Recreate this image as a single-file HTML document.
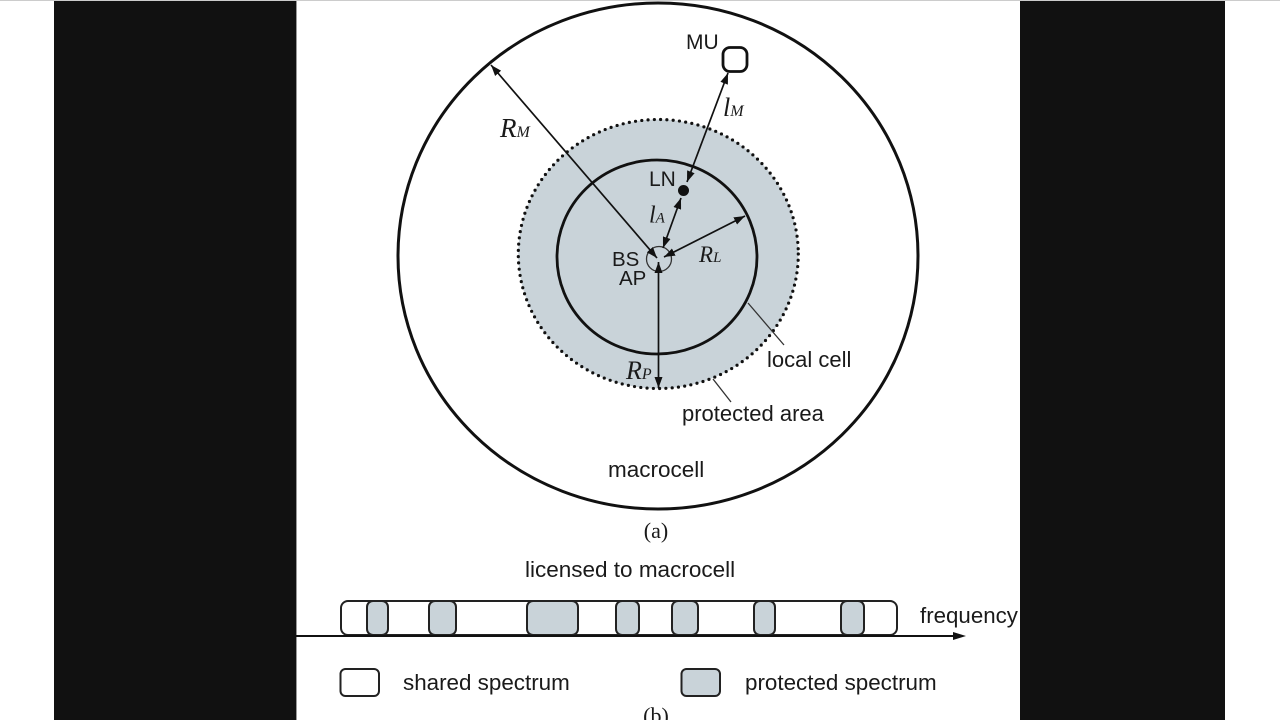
<!DOCTYPE html>
<html>
<head>
<meta charset="utf-8">
<style>
  html,body{margin:0;padding:0;background:#fff;}
  body{width:1280px;height:720px;overflow:hidden;}
  svg{display:block;}
  .sans{font-family:"Liberation Sans", Arial, sans-serif; fill:#1a1a1a;}
  .ser{font-family:"Liberation Serif", "Times New Roman", serif; font-style:italic; fill:#1a1a1a;}
  .serr{font-family:"Liberation Serif", "Times New Roman", serif; fill:#1a1a1a;}
</style>
</head>
<body>
<svg width="1280" height="720" viewBox="0 0 1280 720" xmlns="http://www.w3.org/2000/svg">
  <defs>
    <marker id="ah" viewBox="0 0 11 8" refX="11" refY="4" markerUnits="userSpaceOnUse" markerWidth="11" markerHeight="8" orient="auto-start-reverse">
      <path d="M0,0 L11,4 L0,8 z" fill="#111"/>
    </marker>
  </defs>

  <rect x="0" y="0" width="1280" height="720" fill="#fff"/>
  <line x1="0" y1="0.5" x2="1280" y2="0.5" stroke="#ccc" stroke-width="1"/>
  <!-- black side panels -->
  <rect x="54" y="1" width="242" height="719" fill="#111"/>
  <rect x="1020" y="1" width="205" height="719" fill="#111"/>
  <line x1="296.5" y1="1" x2="296.5" y2="720" stroke="#999" stroke-width="1"/>

  <!-- macrocell -->
  <ellipse cx="658" cy="256" rx="260" ry="253" fill="none" stroke="#111" stroke-width="3"/>
  <!-- protected area -->
  <ellipse cx="658.3" cy="254" rx="140" ry="134.5" fill="#c9d3d9" stroke="#111" stroke-width="3.2" stroke-dasharray="0 6.3" stroke-linecap="round"/>
  <!-- local cell -->
  <ellipse cx="657" cy="257" rx="100" ry="97" fill="none" stroke="#111" stroke-width="2.8"/>

  <!-- leader lines -->
  <line x1="748" y1="303" x2="784" y2="345" stroke="#333" stroke-width="1.3"/>
  <line x1="713" y1="379" x2="731" y2="402" stroke="#333" stroke-width="1.3"/>

  <!-- BS circle -->
  <circle cx="659" cy="259" r="12.5" fill="none" stroke="#333" stroke-width="1.3"/>

  <!-- arrows -->
  <g stroke="#111" stroke-width="1.7" fill="none">
    <line x1="657" y1="258" x2="491" y2="65" marker-start="url(#ah)" marker-end="url(#ah)"/>
    <line x1="687" y1="182" x2="728" y2="73" marker-start="url(#ah)" marker-end="url(#ah)"/>
    <line x1="663" y1="248" x2="681" y2="198" marker-start="url(#ah)" marker-end="url(#ah)"/>
    <line x1="664" y1="257" x2="745" y2="216" marker-start="url(#ah)" marker-end="url(#ah)"/>
    <line x1="658.5" y1="262" x2="658.5" y2="388" marker-start="url(#ah)" marker-end="url(#ah)"/>
  </g>

  <!-- LN dot -->
  <circle cx="683.5" cy="190.5" r="5.5" fill="#111"/>
  <!-- MU box -->
  <rect x="723" y="47.5" width="24" height="24" rx="7" fill="#fff" stroke="#111" stroke-width="2.8"/>

  <!-- labels -->
  <text class="sans" x="686" y="49" font-size="21">MU</text>
  <text class="sans" x="649" y="186" font-size="21">LN</text>
  <text class="sans" x="612" y="266" font-size="20.5">BS</text>
  <text class="sans" x="619" y="285" font-size="20.5">AP</text>
  <text class="sans" x="767" y="367" font-size="22">local cell</text>
  <text class="sans" x="682" y="421" font-size="22">protected area</text>
  <text class="sans" x="608" y="477" font-size="22.5">macrocell</text>

  <text class="ser" x="500" y="137" font-size="27">R<tspan font-size="16">M</tspan></text>
  <text class="ser" x="723" y="116" font-size="26">l<tspan font-size="16">M</tspan></text>
  <text class="ser" x="649" y="222.5" font-size="24">l<tspan font-size="15">A</tspan></text>
  <text class="ser" x="699" y="262" font-size="23">R<tspan font-size="15">L</tspan></text>
  <text class="ser" x="626" y="379" font-size="26">R<tspan font-size="16">P</tspan></text>

  <text class="serr" x="656" y="538" font-size="22" text-anchor="middle">(a)</text>
  <text class="sans" x="525" y="577" font-size="22.5">licensed to macrocell</text>

  <!-- frequency bar -->
  <rect x="341" y="601" width="556" height="34" rx="7" fill="#fff" stroke="#222" stroke-width="2"/>
  <g fill="#c9d3d9" stroke="#222" stroke-width="2">
    <rect x="367" y="601" width="21" height="34" rx="6"/>
    <rect x="429" y="601" width="27" height="34" rx="6"/>
    <rect x="527" y="601" width="51" height="34" rx="6"/>
    <rect x="616" y="601" width="23" height="34" rx="6"/>
    <rect x="672" y="601" width="26" height="34" rx="6"/>
    <rect x="754" y="601" width="21" height="34" rx="6"/>
    <rect x="841" y="601" width="23" height="34" rx="6"/>
  </g>
  <line x1="296" y1="636" x2="956" y2="636" stroke="#111" stroke-width="2"/>
  <path d="M953,632 L966,636 L953,640 z" fill="#111"/>
  <text class="sans" x="920" y="623" font-size="22.3">frequency</text>

  <!-- legend -->
  <rect x="340.5" y="669" width="38.5" height="27" rx="5" fill="#fff" stroke="#222" stroke-width="2"/>
  <text class="sans" x="403" y="690" font-size="22.4">shared spectrum</text>
  <rect x="681.5" y="669" width="38.5" height="27" rx="5" fill="#c9d3d9" stroke="#222" stroke-width="2"/>
  <text class="sans" x="745" y="690" font-size="22.4">protected spectrum</text>

  <text class="serr" x="656" y="723" font-size="22" text-anchor="middle">(b)</text>
</svg>
</body>
</html>
